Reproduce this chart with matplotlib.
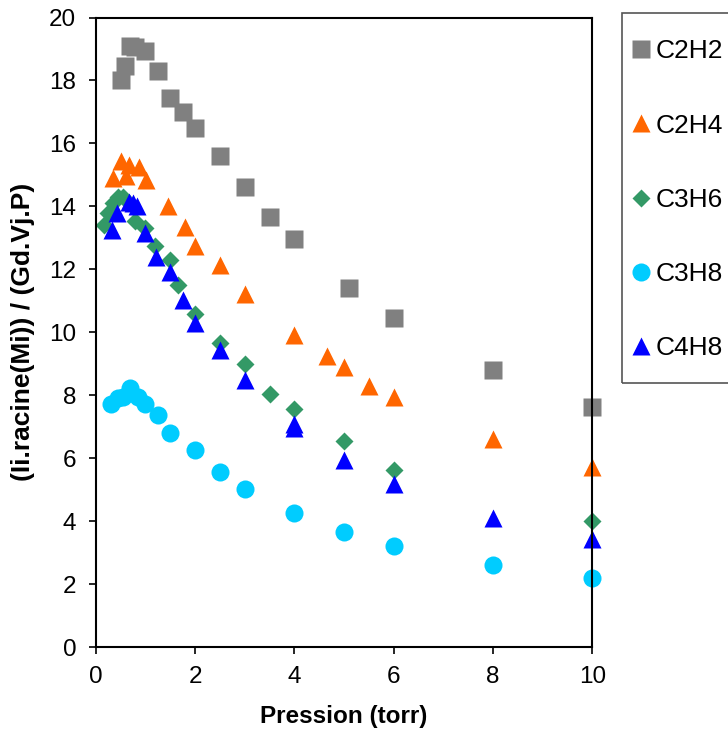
import matplotlib.pyplot as plt
from matplotlib.patches import Rectangle

plt.rcParams['font.family'] = ['Liberation Sans', 'DejaVu Sans']

# values
c2h2_x = [0.5, 0.6, 0.7, 0.79, 1.0, 1.25, 1.5, 1.75, 2.0, 2.5, 3.0, 3.5, 4.0, 5.1, 6.0, 8.0, 10.0]
c2h2_y = [18.0, 18.45, 19.1, 19.05, 18.95, 18.3, 17.45, 17.0, 16.5, 15.6, 14.6, 13.65, 12.95, 11.4, 10.45, 8.8, 7.62]

c2h4_x = [0.35, 0.5, 0.62, 0.68, 0.87, 1.02, 1.45, 1.8, 2.0, 2.5, 3.0, 4.0, 4.65, 5.0, 5.5, 6.0, 8.0, 10.0]
c2h4_y = [14.9, 15.45, 14.95, 15.3, 15.25, 14.85, 14.0, 13.35, 12.75, 12.15, 11.2, 9.9, 9.23, 8.9, 8.3, 7.95, 6.6, 5.73]

c3h6_x = [0.17, 0.25, 0.35, 0.45, 0.55, 0.8, 1.0, 1.2, 1.5, 1.65, 2.0, 2.5, 3.0, 3.5, 4.0, 5.0, 6.0, 10.0]
c3h6_y = [13.4, 13.78, 14.12, 14.3, 14.3, 13.55, 13.3, 12.75, 12.3, 11.5, 10.57, 9.67, 8.98, 8.05, 7.55, 6.54, 5.62, 3.99]

c3h8_x = [0.3, 0.45, 0.55, 0.7, 0.85, 1.0, 1.25, 1.5, 2.0, 2.5, 3.0, 4.0, 5.0, 6.0, 8.0, 10.0]
c3h8_y = [7.72, 7.9, 7.95, 8.22, 7.95, 7.73, 7.36, 6.8, 6.25, 5.55, 5.02, 4.25, 3.65, 3.2, 2.6, 2.19]

c4h8_x = [0.33, 0.42, 0.67, 0.75, 0.84, 1.0, 1.21, 1.49, 1.75, 2.0, 2.5, 3.0, 4.0, 4.0, 5.0, 6.0, 8.0, 10.0]
c4h8_y = [13.24, 13.8, 14.13, 14.1, 14.0, 13.14, 12.39, 11.93, 11.03, 10.29, 9.44, 8.48, 7.07, 6.95, 5.95, 5.18, 4.1, 3.43]

fig = plt.figure(figsize=(7.28, 7.35), dpi=100)
ax = fig.add_axes([95.7 / 728, 1 - 647 / 735, (592.3 - 95.7) / 728, (647 - 17.5) / 735])

ax.plot(c2h2_x, c2h2_y, 's', color='#808080', ms=13, mec='none', label='C2H2', clip_on=False)
ax.plot(c2h4_x, c2h4_y, '^', color='#FF6600', ms=13, mec='none', label='C2H4', clip_on=False)
ax.plot(c3h6_x, c3h6_y, 'D', color='#339966', ms=9, mec='none', label='C3H6', clip_on=False)
ax.plot(c3h8_x, c3h8_y, 'o', color='#00CCFF', ms=13, mec='none', label='C3H8', clip_on=False)
ax.plot(c4h8_x, c4h8_y, '^', color='#0000FF', ms=13, mec='none', label='C4H8', clip_on=False)

ax.set_xlim(0, 10)
ax.set_ylim(0, 20)
ax.set_xticks(range(0, 11, 2))
ax.set_yticks(range(0, 21, 2))
ax.tick_params(direction='out', length=5, width=1.2, labelsize=17.5)
ax.tick_params(axis='x', pad=9)
ax.tick_params(axis='y', pad=9)
for s in ax.spines.values():
    s.set_linewidth(1.5)

ax.set_xlabel('Pression (torr)', fontsize=17.5, fontweight='bold', labelpad=12)
ax.set_ylabel('(Ii.racine(Mi)) / (Gd.Vj.P)', fontsize=19, fontweight='bold', labelpad=10)

# legend box drawn separately so it can run off the right edge like the original
fig.patches.append(Rectangle((621.7 / 728, 1 - 383.3 / 735), 0.2, (383.3 - 13.3) / 735,
                             transform=fig.transFigure, fill=False, edgecolor='#555555', lw=1.2))
fig.legend(loc='upper left', bbox_to_anchor=(627.5 / 728, 1 - 39.5 / 735), frameon=False,
           fontsize=19, borderpad=0, borderaxespad=0, handlelength=1.0,
           handletextpad=0.05, labelspacing=1.9, markerscale=1.0)

fig.savefig('out.png', dpi=100)
